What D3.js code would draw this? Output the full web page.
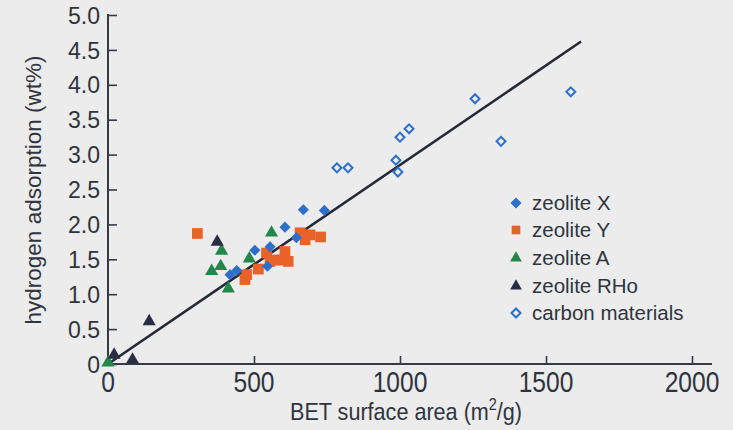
<!DOCTYPE html>
<html>
<head>
<meta charset="utf-8">
<script src="https://cdn.jsdelivr.net/npm/d3@7"></script>
<style>
  html, body { margin: 0; padding: 0; background: #ebeceb; }
  svg { display: block; }
  text { font-family: "Liberation Sans", Arial, sans-serif; fill: #30343e; }
</style>
</head>
<body>
<svg id="chart" width="733" height="430"></svg>
<script>
// Hydrogen uptake vs BET surface area for zeolites and carbons
const xTicks = [0, 500, 1000, 1500, 2000];
const yTicks = [0, 0.5, 1.0, 1.5, 2.0, 2.5, 3.0, 3.5, 4.0, 4.5, 5.0];

const zeoliteX = [
  [669, 2.21], [741, 2.20], [606, 1.96], [555, 1.68], [503, 1.63],
  [441, 1.34], [418, 1.28], [546, 1.40], [645, 1.81]
];
const zeoliteY = [
  [306, 1.87], [658, 1.88], [675, 1.78], [692, 1.85], [728, 1.82],
  [606, 1.61], [595, 1.49], [617, 1.47], [572, 1.49], [555, 1.47],
  [515, 1.36], [475, 1.28], [469, 1.21], [543, 1.59]
];
const zeoliteA = [
  [560, 1.88], [389, 1.62], [386, 1.40], [355, 1.33], [484, 1.51],
  [412, 1.08], [0, 0.02]
];
const zeoliteRHo = [
  [374, 1.75], [141, 0.61], [21, 0.13], [84, 0.06]
];
const carbon = [
  [1257, 3.80], [1585, 3.90], [1031, 3.37], [1000, 3.25], [986, 2.92],
  [993, 2.75], [1346, 3.19], [784, 2.81], [822, 2.81]
];

// Linear fit through the origin
const fitLine = [[0, 0], [1620, 4.62]];

const seriesNames = ["zeolite X", "zeolite Y", "zeolite A", "zeolite RHo", "carbon materials"];

const svg = d3.select("#chart");
const x = d3.scaleLinear().domain([0, 2000]).range([108, 692]);
const y = d3.scaleLinear().domain([0, 5]).range([364, 15]);

const axisColor = "#363a45";

// y axis
const yAxis = svg.append("g").attr("transform", `translate(${x(0)},0)`)
  .call(d3.axisRight(y).tickValues(yTicks).tickSize(9).tickFormat(() => ""));
yAxis.select(".domain").remove();
yAxis.selectAll("line").attr("stroke", axisColor).attr("stroke-width", 1.6);
svg.append("line").attr("x1", x(0)).attr("x2", x(0)).attr("y1", y(5) - 1).attr("y2", y(0))
  .attr("stroke", axisColor).attr("stroke-width", 2);
svg.append("g").selectAll("text").data(yTicks).join("text")
  .attr("x", 100).attr("y", d => y(d)).attr("dy", "0.36em")
  .attr("text-anchor", "end").attr("font-size", 24)
  .attr("font-family", "'DejaVu Sans', sans-serif")
  .attr("transform", "translate(100,0) scale(0.96,1) translate(-100,0)")
  .text(d => d === 0 ? "0" : d3.format(".1f")(d));

// x axis
const xAxis = svg.append("g").attr("transform", `translate(0,${y(0)})`)
  .call(d3.axisTop(x).tickValues(xTicks).tickSize(8).tickFormat(() => ""));
xAxis.select(".domain").remove();
xAxis.selectAll("line").attr("stroke", axisColor).attr("stroke-width", 1.6);
svg.append("line").attr("x1", x(0)).attr("x2", 712).attr("y1", y(0)).attr("y2", y(0))
  .attr("stroke", axisColor).attr("stroke-width", 2);
svg.append("g").selectAll("text").data(xTicks).join("text")
  .attr("transform", d => `translate(${x(d)},392) scale(0.82,1)`)
  .attr("text-anchor", "middle").attr("font-size", 30)
  .text(d => d);

// axis titles
const xt = svg.append("text")
  .attr("transform", "translate(406,420) scale(0.9,1)")
  .attr("text-anchor", "middle").attr("font-size", 24);
xt.append("tspan").text("BET surface area (m");
xt.append("tspan").attr("dy", -10).attr("font-size", 16).text("2");
xt.append("tspan").attr("dy", 10).text("/g)");

svg.append("text").attr("transform", `translate(41,${190}) rotate(-90)`)
  .attr("text-anchor", "middle").attr("font-size", 22.5)
  .text("hydrogen adsorption (wt%)");

// fit line
svg.append("path").datum(fitLine)
  .attr("d", d3.line().x(d => x(d[0])).y(d => y(d[1])))
  .attr("stroke", "#262a36").attr("stroke-width", 2.6).attr("fill", "none");

const colX = "#2e6fcb", colY = "#e8632a", colA = "#22874a", colR = "#2a2e45";

const tri = d3.symbol().type(d3.symbolTriangle).size(75)();
const sq = d3.symbol().type(d3.symbolSquare).size(115)();
const dia = d3.symbol().type(d3.symbolSquare).size(62)();
const diaOpen = d3.symbol().type(d3.symbolSquare).size(40)();

function plot(data, path, fill, stroke, rot, sw) {
  svg.append("g").selectAll("path").data(data).join("path")
    .attr("d", path)
    .attr("transform", d => `translate(${x(d[0])},${y(d[1])}) rotate(${rot})`)
    .attr("fill", fill).attr("stroke", stroke).attr("stroke-width", sw || 0);
}

plot(zeoliteA, tri, colA, "none", 0);
plot(zeoliteRHo, tri, colR, "none", 0);
plot(zeoliteY, sq, colY, "none", 0);
plot(zeoliteX, dia, colX, "none", 45);
plot(carbon, diaOpen, "none", colX, 45, 2);

// legend
const legY = [203, 230, 258, 286, 313];
const legShapes = [
  { p: dia, f: colX, s: "none", r: 45, w: 0 },
  { p: d3.symbol().type(d3.symbolSquare).size(75)(), f: colY, s: "none", r: 0, w: 0 },
  { p: d3.symbol().type(d3.symbolTriangle).size(60)(), f: colA, s: "none", r: 0, w: 0 },
  { p: d3.symbol().type(d3.symbolTriangle).size(60)(), f: colR, s: "none", r: 0, w: 0 },
  { p: diaOpen, f: "none", s: colX, r: 45, w: 2 }
];
const leg = svg.append("g");
seriesNames.forEach((name, i) => {
  const sh = legShapes[i];
  leg.append("path").attr("d", sh.p)
    .attr("transform", `translate(516,${legY[i]}) rotate(${sh.r})`)
    .attr("fill", sh.f).attr("stroke", sh.s).attr("stroke-width", sh.w);
  leg.append("text").attr("x", 532).attr("y", legY[i]).attr("dy", "0.35em")
    .attr("font-size", 20.5).text(name);
});
</script>
</body>
</html>
